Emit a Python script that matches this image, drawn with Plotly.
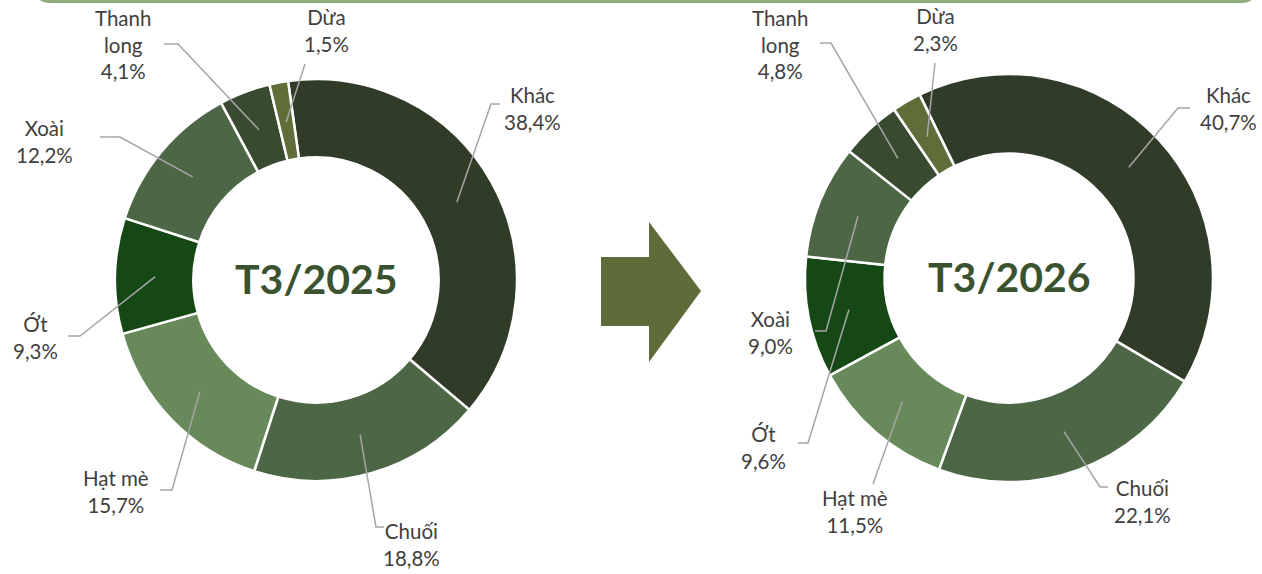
import math
import plotly.graph_objects as go

# ---------------- data ----------------
categories = ["Khác", "Chuối", "Hạt mè", "Ớt", "Xoài", "Thanh long", "Dừa"]
label_names = ["Khác", "Chuối", "Hạt mè", "Ớt", "Xoài", "Thanh<br>long", "Dừa"]
share_2025 = [38.4, 18.8, 15.7, 9.3, 12.2, 4.1, 1.5]
share_2026 = [40.7, 22.1, 11.5, 9.6, 9.0, 4.8, 2.3]
period_labels = ["T3/2025", "T3/2026"]

# ---------------- styles / layout ----------------
W, H = 1262, 574
slice_colors = ["#303c28", "#4d6645", "#68895a", "#154814", "#4d6645", "#384a2f", "#5f6e39"]
label_color = "#404040"
leader_color = "#a6a6a6"
center_color = "#3b5230"
arrow_color = "#5f6b38"
border_color = "#8fab7f"
FONT = "Lato, 'Open Sans', sans-serif"

donuts = [
    dict(cx=316, cy=280, r=201, rot=-8),
    dict(cx=1009, cy=278, r=204, rot=-26),
]
HOLE = 0.61

# label block centres (pixel) and leader elbow / end points
label_pos = [
    [(532, 108), (411, 544), (116, 491), (35, 337), (44, 141), (123, 44), (326, 30)],
    [(1228, 108), (1142, 501), (855, 511), (763, 447), (770, 332), (780, 44), (935, 29)],
]
leader_elbow = [
    [(491, 104), (376, 527), (172, 490), (80, 336), (120, 137), (178, 44), (305, 64)],
    [(1178, 108), (1100, 487), (873, 484), (808, 443), (826, 331), (831, 43), (935, 63)],
]
leader_end = [
    [(500, 104), (384, 527), (160, 490), (68, 336), (100, 137), (164, 44), (305, 64)],
    [(1190, 108), (1108, 487), (873, 484), (798, 443), (815, 331), (820, 43), (935, 63)],
]


def px(x):
    return x / W


def py(y):
    return 1 - y / H


def fmt(v):
    return f"{v:.1f}".replace(".", ",") + "%"


fig = go.Figure()
shapes = []
annotations = []

for k, (values, d) in enumerate(zip([share_2025, share_2026], donuts)):
    cx, cy, r = d["cx"], d["cy"], d["r"]
    fig.add_trace(go.Pie(
        labels=categories,
        values=values,
        sort=False,
        direction="clockwise",
        rotation=d["rot"],
        hole=HOLE,
        marker=dict(colors=slice_colors, line=dict(color="white", width=2.5)),
        textinfo="none",
        hoverinfo="label+percent",
        showlegend=False,
        domain=dict(x=[px(cx - r), px(cx + r)], y=[py(cy + r), py(cy - r)]),
    ))

    total = sum(values)
    cum = 0.0
    for i, v in enumerate(values):
        theta = math.radians(d["rot"] + 360.0 * (cum + v / 2) / total)
        cum += v
        x0 = cx + 0.8 * r * math.sin(theta)
        y0 = cy - 0.8 * r * math.cos(theta)
        ex, ey = leader_elbow[k][i]
        fx, fy = leader_end[k][i]
        path = (f"M {px(x0)},{py(y0)} L {px(ex)},{py(ey)} L {px(fx)},{py(fy)}")
        shapes.append(dict(type="path", path=path, xref="paper", yref="paper",
                           line=dict(color=leader_color, width=1.5), layer="above"))
        lx, ly = label_pos[k][i]
        annotations.append(dict(
            x=px(lx), y=py(ly), xref="paper", yref="paper",
            text=f"{label_names[i]}<br>{fmt(v)}", showarrow=False,
            xanchor="center", yanchor="middle", align="center",
            font=dict(family=FONT, size=20.5, color=label_color),
        ))

    annotations.append(dict(
        x=px(cx), y=py(cy - 2), xref="paper", yref="paper",
        text=f"<b>{period_labels[k]}</b>", showarrow=False,
        xanchor="center", yanchor="middle",
        font=dict(family=FONT, size=41, color=center_color),
    ))

# arrow between the donuts
arrow_pts = [(601, 257), (649, 257), (649, 222), (701, 291), (649, 362), (649, 326), (601, 326)]
arrow_path = "M " + " L ".join(f"{px(x)},{py(y)}" for x, y in arrow_pts) + " Z"
shapes.append(dict(type="path", path=arrow_path, xref="paper", yref="paper",
                   fillcolor=arrow_color, line=dict(width=0), layer="above"))

# top border (bottom edge of a framing box)
border_path = (f"M {px(36)},{py(-14)} Q {px(36)},{py(1.5)} {px(50)},{py(1.5)} "
               f"L {px(1242)},{py(1.5)} Q {px(1255)},{py(1.5)} {px(1255)},{py(-14)}")
shapes.append(dict(type="path", path=border_path, xref="paper", yref="paper",
                   line=dict(color=border_color, width=3), layer="above"))

fig.update_layout(
    width=W, height=H,
    margin=dict(l=0, r=0, t=0, b=0),
    paper_bgcolor="white", plot_bgcolor="white",
    shapes=shapes, annotations=annotations,
    font=dict(family=FONT),
)

fig.write_html(
    "out.html",
    config={"displayModeBar": False},
    post_script="document.body.style.margin='0';document.body.style.overflow='hidden';",
)
